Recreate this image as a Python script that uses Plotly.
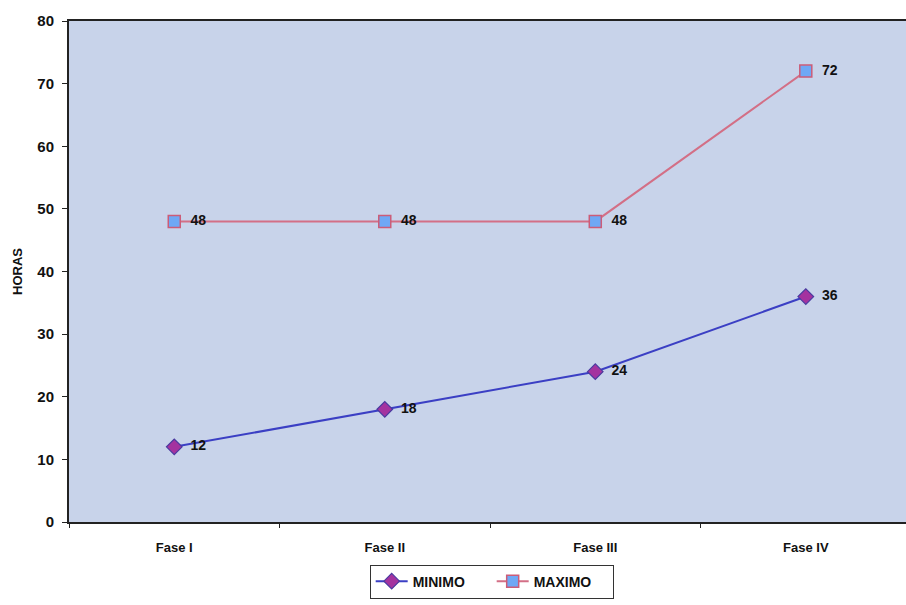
import plotly.graph_objects as go

fases = ["Fase I", "Fase II", "Fase III", "Fase IV"]
minimo = [12, 18, 24, 36]
maximo = [48, 48, 48, 72]
y_ticks = [0, 10, 20, 30, 40, 50, 60, 70, 80]

font_family = "Liberation Sans, Arial, sans-serif"

fig = go.Figure()
fig.add_trace(go.Scatter(
    x=fases, y=minimo, name="MINIMO", mode="lines+markers+text",
    line=dict(color="#3b3fc4", width=2),
    marker=dict(symbol="diamond", size=12, color="#a4339f",
                line=dict(color="#4a3aa0", width=1.2)),
    texttemplate="\u00a0\u00a0%{y}", textposition="middle right",
    textfont=dict(family=font_family, size=14, color="#111111", weight="bold"),
))
fig.add_trace(go.Scatter(
    x=fases, y=maximo, name="MAXIMO", mode="lines+markers+text",
    line=dict(color="#d36f86", width=2),
    marker=dict(symbol="square", size=12, color="#6fa8f5",
                line=dict(color="#cc5c78", width=1.5)),
    texttemplate="\u00a0\u00a0%{y}", textposition="middle right",
    textfont=dict(family=font_family, size=14, color="#111111", weight="bold"),
))

fig.update_layout(
    width=906, height=605,
    margin=dict(l=69, r=0, t=21, b=83, autoexpand=False),
    paper_bgcolor="white",
    plot_bgcolor="#c8d3ea",
    font=dict(family=font_family, color="#111111"),
    showlegend=True,
    legend=dict(
        orientation="h", x=0.505, xanchor="center", y=-0.085, yanchor="top",
        bgcolor="white", bordercolor="#333333", borderwidth=1,
        font=dict(family=font_family, size=14, color="#111111", weight="bold"),
        itemwidth=32, entrywidth=74,
    ),
    xaxis=dict(
        type="category", range=[-0.5, 3.476], automargin=False,
        showgrid=False, zeroline=False,
        showline=True, linecolor="#222222", linewidth=2, mirror=True,
        ticks="outside", tickson="boundaries", ticklen=4, tickcolor="#222222",
        ticklabelstandoff=12,
        tickfont=dict(family=font_family, size=13, color="#111111", weight="bold"),
    ),
    yaxis=dict(
        range=[0, 80], tickvals=y_ticks, automargin=False,
        showgrid=False, zeroline=False,
        showline=True, linecolor="#222222", linewidth=2, mirror=True,
        ticks="outside", ticklen=5, tickcolor="#222222",
        ticklabelstandoff=5,
        tickfont=dict(family=font_family, size=15, color="#111111", weight="bold"),
        title=dict(text="HORAS", standoff=12,
                   font=dict(family=font_family, size=13, color="#111111", weight="bold")),
    ),
)

fig.write_html(
    "out.html",
    config={"displayModeBar": False},
    post_script="document.body.style.margin='0';document.body.style.overflow='hidden';",
)
